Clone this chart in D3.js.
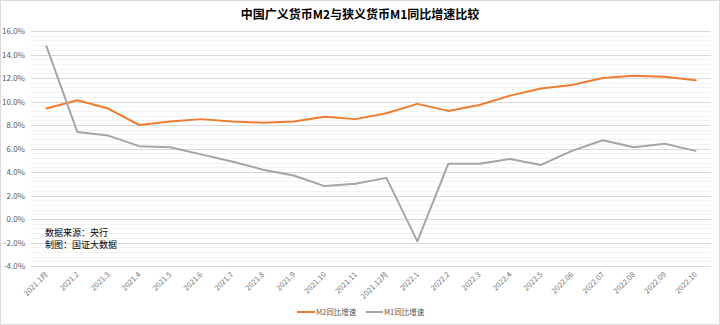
<!DOCTYPE html>
<html><head><meta charset="utf-8">
<script src="https://cdn.jsdelivr.net/npm/d3@7"></script>
<style>
html,body{margin:0;padding:0;background:#fff;}
svg{display:block;font-family:"Noto Sans CJK SC","Noto Sans",sans-serif;}
</style></head>
<body><svg id="c" width="720" height="325"></svg>
<script>
const categories = ["2021.1月","2021.2","2021.3","2021.4","2021.5","2021.6","2021.7","2021.8","2021.9","2021.10","2021.11","2021.12月","2022.1","2022.2","2022.3","2022.4","2022.5","2022.06","2022.07","2022.08","2022.09","2022.10"];
const m2 = [9.4,10.1,9.4,8.0,8.3,8.5,8.3,8.2,8.3,8.7,8.5,9.0,9.8,9.2,9.7,10.5,11.1,11.4,12.0,12.2,12.1,11.8];
const m1 = [14.7,7.4,7.1,6.2,6.1,5.5,4.9,4.2,3.7,2.8,3.0,3.5,-1.9,4.7,4.7,5.1,4.6,5.8,6.7,6.1,6.4,5.8];
const yTicks = [-4,-2,0,2,4,6,8,10,12,14,16];
const seriesNames = ["M2同比增速","M1同比增速"];
const colors = ["#ED7D31","#A5A5A5"];
const title = "中国广义货币M2与狭义货币M1同比增速比较";
const notes = ["数据来源：央行","制图：国证大数据"];

const svg = d3.select("#c");
svg.append("rect").attr("x",0.5).attr("y",0.5).attr("width",719).attr("height",324)
  .attr("fill","#fff").attr("stroke","#d9d9d9");

const L=31, R=711, T=31, B=266;
const x = d3.scaleBand().domain(categories).range([L,R]);
const y = d3.scaleLinear().domain([-4,16]).range([B,T]);

// minor grid
const minor = d3.range(-4,16.001,0.4).filter(v=>Math.abs(Math.round(v/2)*2 - v)>1e-6);
svg.append("g").selectAll("line").data(minor).join("line")
  .attr("x1",L).attr("x2",R)
  .attr("y1",d=>Math.round(y(d))+0.5).attr("y2",d=>Math.round(y(d))+0.5)
  .attr("stroke","#f2f2f2").attr("stroke-width",1);
// major grid
svg.append("g").selectAll("line").data(yTicks).join("line")
  .attr("x1",L).attr("x2",R)
  .attr("y1",d=>Math.round(y(d))+0.5).attr("y2",d=>Math.round(y(d))+0.5)
  .attr("stroke","#d9d9d9").attr("stroke-width",1);

// y axis labels
const yAxis = d3.axisLeft(y).tickValues(yTicks).tickSize(0).tickPadding(6)
  .tickFormat(d=>d.toFixed(1)+"%");
const ya = svg.append("g").attr("transform",`translate(${L},0)`).call(yAxis);
ya.select(".domain").remove();
ya.selectAll("text").attr("fill","#595959").attr("font-size",8).attr("font-family","'Noto Sans CJK SC',sans-serif");

// x axis labels
const xAxis = d3.axisBottom(x).tickSize(0).tickPadding(0);
const xa = svg.append("g").attr("transform",`translate(0,${B})`).call(xAxis);
xa.select(".domain").remove();
xa.selectAll("text").attr("fill","#767676").attr("font-size",7.5)
  .attr("font-family","'Noto Sans CJK SC',sans-serif")
  .attr("text-anchor","end").attr("dy",0)
  .attr("transform","translate(2,9) rotate(-45)");

// lines
const line = d3.line().x((d,i)=>x(categories[i])+x.bandwidth()/2).y(d=>y(d));
[m2,m1].forEach((s,i)=>{
  svg.append("path").datum(s).attr("d",line).attr("fill","none")
    .attr("stroke",colors[i]).attr("stroke-width",2).attr("stroke-linejoin","round").attr("stroke-linecap","round");
});

// title
svg.append("text").attr("x",360).attr("y",19).attr("text-anchor","middle")
  .attr("font-size",12).attr("font-weight","bold").attr("fill","#000").text(title);

// notes
notes.forEach((t,i)=>{
  svg.append("text").attr("x",45).attr("y",235.5+i*12.5).attr("font-size",9).attr("fill","#000").text(t);
});

// legend
const lg = [{x0:297,x1:315,tx:316},{x0:366,x1:383,tx:384}];
lg.forEach((p,i)=>{
  svg.append("line").attr("x1",p.x0).attr("x2",p.x1).attr("y1",312).attr("y2",312)
    .attr("stroke",colors[i]).attr("stroke-width",2);
  svg.append("text").attr("x",p.tx).attr("y",315).attr("font-size",7.5).attr("fill","#595959").text(seriesNames[i]);
});
</script></body></html>
